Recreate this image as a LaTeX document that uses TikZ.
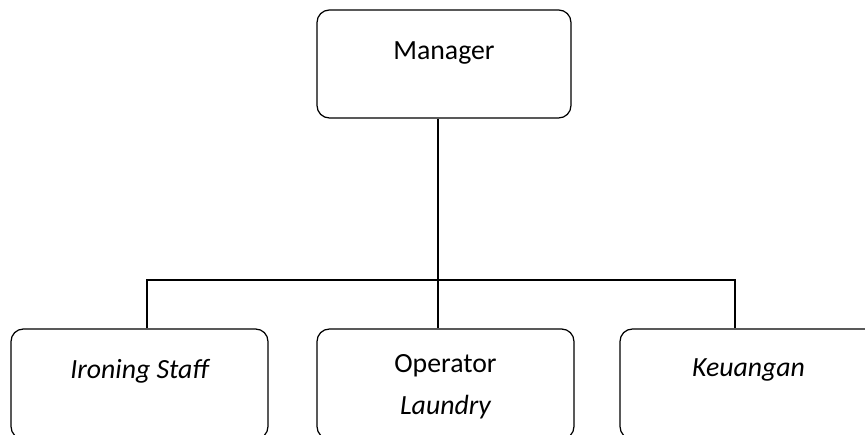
\documentclass[tikz,border=0pt]{standalone}
\usepackage{fontspec}
\setmainfont{Carlito}
\usepackage{tikz}
\usetikzlibrary{positioning}

\begin{document}
\begin{tikzpicture}[x=0.02cm,y=-0.02cm,
  box/.style={draw,rounded corners=7pt,line width=0.7pt,minimum width=5.14cm,minimum height=2.2cm,inner sep=0pt},
  txt/.style={anchor=base,inner sep=0pt,font=\fontsize{15.8}{23}\selectfont},
  link/.style={line width=1.1pt}]
  \useasboundingbox (0,0) rectangle (865,435);
  \clip (0,0) rectangle (865,435);

  % boxes
  \node[box,minimum width=5.08cm,minimum height=2.16cm] (mgr) at (444,64) {};
  \node[box] (staff) at (139.5,384) {};
  \node[box] (op) at (445.5,384) {};
  \node[box] (keu) at (748.5,384) {};

  % texts
  \node[txt] (mgrT) at (444,60) {Manager};
  \node[txt] (staffT) at (139.5,378) {\itshape Ironing Staff};
  \node[txt] (opT) at (445.5,373) {Operator};
  \node[txt] (opT2) at (445.5,414) {\itshape Laundry};
  \node[txt] (keuT) at (748.5,377) {\itshape Keuangan};

  % lines
  \coordinate (hub) at (438,280);
  \coordinate (hubL) at (147,280);
  \coordinate (hubR) at (735,280);
  \draw[link](hub |- mgr.south)--(hub)--(hub |- op.north);
  \draw[link](hubL |- staff.north)--(hubL)--(hubR)--(hubR |- keu.north);
\end{tikzpicture}
\end{document}
